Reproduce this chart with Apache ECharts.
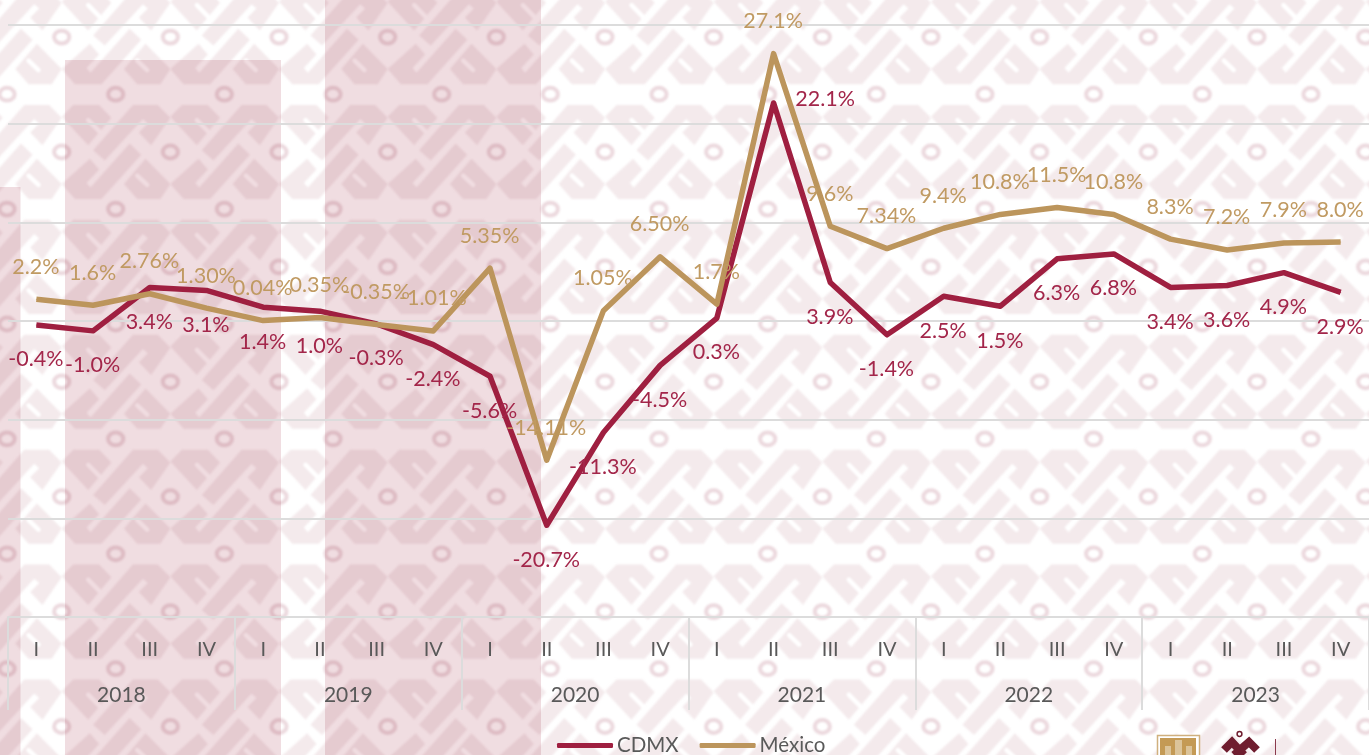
<!DOCTYPE html>
<html><head><meta charset="utf-8">
<style>html,body{margin:0;padding:0;background:#fff;overflow:hidden}#c{width:1369px;height:755px}</style>
<script src="https://cdn.jsdelivr.net/npm/echarts@6/dist/echarts.min.js"></script>
</head><body><div id="c"></div>
<script>
const quarters = ['I','II','III','IV','I','II','III','IV','I','II','III','IV','I','II','III','IV','I','II','III','IV','I','II','III','IV'];
const years = ['2018','2019','2020','2021','2022','2023'];
const cdmx = [-0.4,-1.0,3.4,3.1,1.4,1.0,-0.3,-2.4,-5.6,-20.7,-11.3,-4.5,0.3,22.1,3.9,-1.4,2.5,1.5,6.3,6.8,3.4,3.6,4.9,2.9];
const mexico = [2.2,1.6,2.76,1.30,0.04,0.35,-0.35,-1.01,5.35,-14.11,1.05,6.50,1.7,27.1,9.6,7.34,9.4,10.8,11.5,10.8,8.3,7.2,7.9,8.0];
const cdmxText = ['-0.4%','-1.0%','3.4%','3.1%','1.4%','1.0%','-0.3%','-2.4%','-5.6%','-20.7%','-11.3%','-4.5%','0.3%','22.1%','3.9%','-1.4%','2.5%','1.5%','6.3%','6.8%','3.4%','3.6%','4.9%','2.9%'];
const mexicoText = ['2.2%','1.6%','2.76%','1.30%','0.04%','0.35%','-0.35%','-1.01%','5.35%','-14.11%','1.05%','6.50%','1.7%','27.1%','9.6%','7.34%','9.4%','10.8%','11.5%','10.8%','8.3%','7.2%','7.9%','8.0%'];

const FONT = 'Lato';
const RED = '#9f1f40', TAN = '#bc955c', RED_T = '#a3264a', TAN_T = '#c09a62', GREY = '#595959', GRID = '#dcdcdc';

function backdrop() {
  const W = 1369, H = 755, cv = document.createElement('canvas');
  cv.width = W; cv.height = H;
  const g = cv.getContext('2d');
  g.fillStyle = '#fff'; g.fillRect(0, 0, W, H);
  const PW = 108.66, PH = 114.9, OX = 1148.3, OY = 496.7;
  const sx = PW / 328, sy = PH / 342;
  const polys = [
    [[265,65],[300,30],[378,30],[415,68],[345,150]],
    [[360,165],[480,30],[555,30],[593,68],[535,150],[498,112],[525,85],[510,72],[395,195]],
    [[593,265],[518,190],[453,265],[493,310],[563,310]],
    [[265,265],[350,190],[378,222],[340,262],[352,276],[470,145],[505,178],[385,310],[305,310]]
  ];
  const slits = [[[345,75],[382,112]],[[493,240],[523,268]]];
  const i0 = -12, i1 = 3, j0 = -6, j1 = 4;
  g.filter = 'blur(0.8px)';
  for (let i = i0; i <= i1; i++) for (let j = j0; j <= j1; j++) {
    const tx = x => OX + i * PW + (x - 265) * sx, ty = y => OY + j * PH + (y - 170) * sy;
    g.fillStyle = '#f4eaec';
    polys.forEach(p => {
      g.beginPath();
      p.forEach((q, k) => k ? g.lineTo(tx(q[0]), ty(q[1])) : g.moveTo(tx(q[0]), ty(q[1])));
      g.closePath(); g.fill();
    });
    g.strokeStyle = '#fff'; g.lineWidth = 4.5; g.lineCap = 'round';
    slits.forEach(s => { g.beginPath(); g.moveTo(tx(s[0][0]), ty(s[0][1])); g.lineTo(tx(s[1][0]), ty(s[1][1])); g.stroke(); });
    g.strokeStyle = '#ecd9de'; g.lineWidth = 4;
    [[265,170],[100,340]].forEach(r => {
      g.beginPath(); g.ellipse(tx(r[0]), ty(r[1]), 7.6, 6.4, 0, 0, 7); g.stroke();
    });
  }
  g.filter = 'none';
  g.globalCompositeOperation = 'multiply';
  g.fillStyle = '#f0dde1';
  g.fillRect(0, 187, 20.5, H); g.fillRect(65, 60, 216, H); g.fillRect(325, 0, 216, H);
  g.globalCompositeOperation = 'source-over';
  // logos, cut off by the lower edge
  g.fillStyle = '#fff'; g.fillRect(1157, 735, 43, 20);
  g.strokeStyle = '#d0b07e'; g.lineWidth = 1.5; g.strokeRect(1157.5, 735.5, 42, 22);
  g.fillStyle = '#c49a55'; g.fillRect(1160, 738, 36, 17);
  g.fillStyle = '#dcc49a'; g.fillRect(1175, 740, 7, 15); g.fillRect(1165, 746, 6, 9); g.fillRect(1186, 746, 6, 9);
  g.strokeStyle = '#6f1d2f'; g.lineWidth = 8; g.lineJoin = 'miter'; g.lineCap = 'butt';
  g.beginPath(); g.moveTo(1224, 750); g.lineTo(1232, 742); g.lineTo(1244, 755); g.moveTo(1234, 755); g.lineTo(1249, 742); g.lineTo(1257, 750); g.stroke();
  g.lineWidth = 1.5; g.beginPath(); g.arc(1239.5, 734, 2.4, 0, 7); g.stroke();
  g.strokeStyle = '#8a3a4c'; g.lineWidth = 1; g.beginPath(); g.moveTo(1275.5, 739); g.lineTo(1275.5, 755); g.stroke();
  return cv;
}

const cdmxItems = cdmx.map((v, i) => ({
  value: v,
  label: { formatter: cdmxText[i], position: i === 13 ? [52, -3] : [0, 35] }
}));
const mexicoItems = mexico.map((v, i) => ({
  value: v,
  label: { formatter: mexicoText[i], position: [0, -32] }
}));

const chart = echarts.init(document.getElementById('c'), null, { renderer: 'canvas', width: 1369, height: 755 });
chart.setOption({
  animation: false,
  backgroundColor: { image: backdrop(), repeat: 'no-repeat' },
  textStyle: { fontFamily: FONT },
  grid: { left: 8, top: 25, width: 1363, height: 592, containLabel: false },
  legend: {
    left: 557, top: 735, padding: 0, itemGap: 21, itemWidth: 56, itemHeight: 5, icon: 'roundRect',
    textStyle: { fontFamily: FONT, fontSize: 20.5, color: GREY, padding: [0,0,0,-1] },
    data: ['CDMX', 'México']
  },
  xAxis: [{
    type: 'category', data: quarters, position: 'bottom', boundaryGap: true,
    axisLine: { show: true, onZero: false, lineStyle: { color: GRID, width: 2 } },
    axisTick: { show: false },
    axisLabel: { interval: 0, margin: 23, fontFamily: FONT, fontSize: 20, color: GREY, hideOverlap: false }
  }, {
    type: 'category', data: years, position: 'bottom', boundaryGap: true,
    axisLine: { show: false, onZero: false },
    axisTick: { show: true, length: 93, alignWithLabel: false, lineStyle: { color: GRID, width: 2 } },
    axisLabel: { interval: 0, margin: 68, fontFamily: FONT, fontSize: 21, color: GREY, hideOverlap: false }
  }],
  yAxis: {
    type: 'value', min: -30, max: 30, interval: 10,
    axisLine: { show: false }, axisTick: { show: false }, axisLabel: { show: false },
    splitLine: { show: true, lineStyle: { color: GRID, width: 2 } }
  },
  series: [{
    name: 'CDMX', type: 'line', data: cdmxItems, xAxisIndex: 0, z: 3,
    symbol: 'circle', symbolSize: 1, showSymbol: true, showAllSymbol: true,
    lineStyle: { color: RED, width: 5.5, join: 'round' }, itemStyle: { color: RED },
    label: { show: true, align: 'center', verticalAlign: 'middle', fontFamily: FONT, fontSize: 21.5, color: RED_T },
    labelLayout: { hideOverlap: false }
  }, {
    name: 'México', type: 'line', data: mexicoItems, xAxisIndex: 0, z: 4,
    symbol: 'circle', symbolSize: 1, showSymbol: true, showAllSymbol: true,
    lineStyle: { color: TAN, width: 5.5, join: 'round' }, itemStyle: { color: TAN },
    label: { show: true, align: 'center', verticalAlign: 'middle', fontFamily: FONT, fontSize: 21.5, color: TAN_T },
    labelLayout: { hideOverlap: false }
  }]
});
</script></body></html>
